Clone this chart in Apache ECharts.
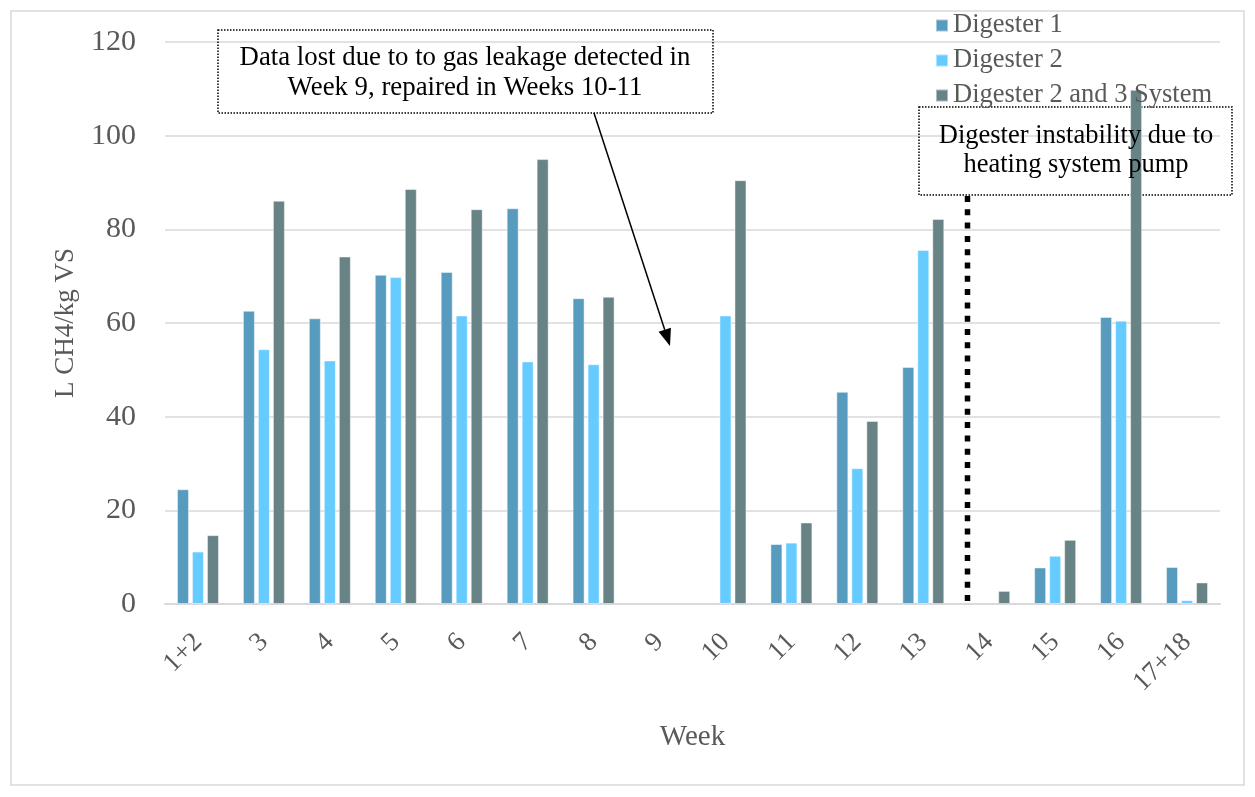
<!DOCTYPE html>
<html>
<head>
<meta charset="utf-8">
<script src="https://cdn.jsdelivr.net/npm/echarts@6/dist/echarts.min.js"></script>
<style>html,body{margin:0;padding:0;background:#fff;}#chart{width:1255px;height:797px;}</style>
</head>
<body>
<div id="chart"></div>
<script>
const weeks = ['1+2','3','4','5','6','7','8','9','10','11','12','13','14','15','16','17+18'];
const digester1 = [24.5, 62.6, 61.0, 70.3, 70.9, 84.5, 65.3, null, null, 12.8, 45.3, 50.6, null, 7.8, 61.3, 7.9];
const digester2 = [11.2, 54.4, 52.0, 69.8, 61.6, 51.8, 51.2, null, 61.6, 13.1, 29.0, 75.6, null, 10.3, 60.5, 0.8];
const digester23 = [14.7, 86.1, 74.2, 88.6, 84.3, 95.0, 65.6, null, 90.5, 17.4, 39.1, 82.2, 2.8, 13.7, 109.8, 4.6];
const seriesNames = ['Digester 1', 'Digester 2', 'Digester 2 and 3 System'];
const yTicks = [0, 20, 40, 60, 80, 100, 120];
const note1 = ['Data lost due to to gas leakage detected in', 'Week 9, repaired in Weeks 10-11'];
const note2 = ['Digester instability due to', 'heating system pump'];

const FONT = '"Liberation Serif", "Times New Roman", serif';
const colors = ['#579BBF', '#66CBFF', '#688386'];
const chart = echarts.init(document.getElementById('chart'), null, {renderer: 'canvas'});

function mkSeries(name, data, i) {
  return {
    name: name, type: 'bar', data: data,
    barWidth: 12, barGap: '25%', z: 3,
    itemStyle: {color: colors[i], borderColor: 'rgba(255,255,255,0.45)', borderWidth: 1}
  };
}

// arrow geometry
const tip = [670, 346], start = [594, 113];
const dx = tip[0]-start[0], dy = tip[1]-start[1], L = Math.hypot(dx, dy);
const ux = dx/L, uy = dy/L, hl = 17, hw = 6.5;
const base = [tip[0]-ux*hl, tip[1]-uy*hl];

chart.setOption({
  animation: false,
  backgroundColor: '#fff',
  color: colors,
  grid: {left: 165, right: 35, top: 42, bottom: 193, containLabel: false},
  legend: {
    orient: 'vertical', left: 930, top: 7, itemWidth: 12, itemHeight: 12, itemGap: 8,
    icon: 'rect',
    textStyle: {fontFamily: FONT, fontSize: 26.5, color: '#595959'},
    data: seriesNames
  },
  xAxis: {
    type: 'category', data: weeks,
    name: 'Week', nameLocation: 'middle', nameGap: 119,
    nameTextStyle: {fontFamily: FONT, fontSize: 29, color: '#595959'},
    axisLine: {lineStyle: {color: '#d9d9d9', width: 2}},
    axisTick: {show: false},
    axisLabel: {rotate: 45, margin: 34, fontFamily: FONT, fontSize: 27, color: '#595959', interval: 0}
  },
  yAxis: {
    type: 'value', min: yTicks[0], max: yTicks[yTicks.length-1], interval: 20,
    name: 'L CH4/kg VS', nameLocation: 'middle', nameGap: 86, nameRotate: 90,
    nameTextStyle: {fontFamily: FONT, fontSize: 27, color: '#595959'},
    axisLine: {show: false}, axisTick: {show: false},
    axisLabel: {margin: 29, fontFamily: FONT, fontSize: 30, color: '#595959'},
    splitLine: {lineStyle: {color: '#d9d9d9', width: 1.5}}
  },
  series: [mkSeries(seriesNames[0], digester1, 0), mkSeries(seriesNames[1], digester2, 1), mkSeries(seriesNames[2], digester23, 2)],
  graphic: [
    {type: 'rect', shape: {x: 11, y: 11, width: 1233, height: 774}, style: {fill: 'none', stroke: '#d9d9d9', lineWidth: 1.5}, z: 0, silent: true},
    {type: 'rect', shape: {x: 218, y: 30, width: 495, height: 83}, style: {fill: 'none', stroke: '#000', lineWidth: 1.5, lineDash: [1.5, 1.5]}, z: 10},
    {type: 'text', x: 465, y: 58, style: {text: note1[0], fontFamily: FONT, fontSize: 26.8, fill: '#000', textAlign: 'center', textVerticalAlign: 'middle'}, z: 10},
    {type: 'text', x: 465, y: 88, style: {text: note1[1], fontFamily: FONT, fontSize: 26.8, fill: '#000', textAlign: 'center', textVerticalAlign: 'middle'}, z: 10},
    {type: 'line', shape: {x1: start[0], y1: start[1], x2: base[0], y2: base[1]}, style: {stroke: '#000', lineWidth: 1.5}, z: 10},
    {type: 'polygon', shape: {points: [tip, [base[0]-uy*hw, base[1]+ux*hw], [base[0]+uy*hw, base[1]-ux*hw]]}, style: {fill: '#000'}, z: 10},
    {type: 'rect', shape: {x: 919, y: 107, width: 313, height: 88}, style: {fill: 'none', stroke: '#000', lineWidth: 1.5, lineDash: [1.5, 1.5]}, z: 1},
    {type: 'text', x: 1076, y: 136, style: {text: note2[0], fontFamily: FONT, fontSize: 26.5, fill: '#000', textAlign: 'center', textVerticalAlign: 'middle'}, z: 10},
    {type: 'text', x: 1076, y: 165, style: {text: note2[1], fontFamily: FONT, fontSize: 26.5, fill: '#000', textAlign: 'center', textVerticalAlign: 'middle'}, z: 10},
    {type: 'line', shape: {x1: 967.5, y1: 196, x2: 967.5, y2: 604}, style: {stroke: '#000', lineWidth: 5.5, lineDash: [6, 7.3]}, z: 10}
  ]
});
</script>
</body>
</html>
